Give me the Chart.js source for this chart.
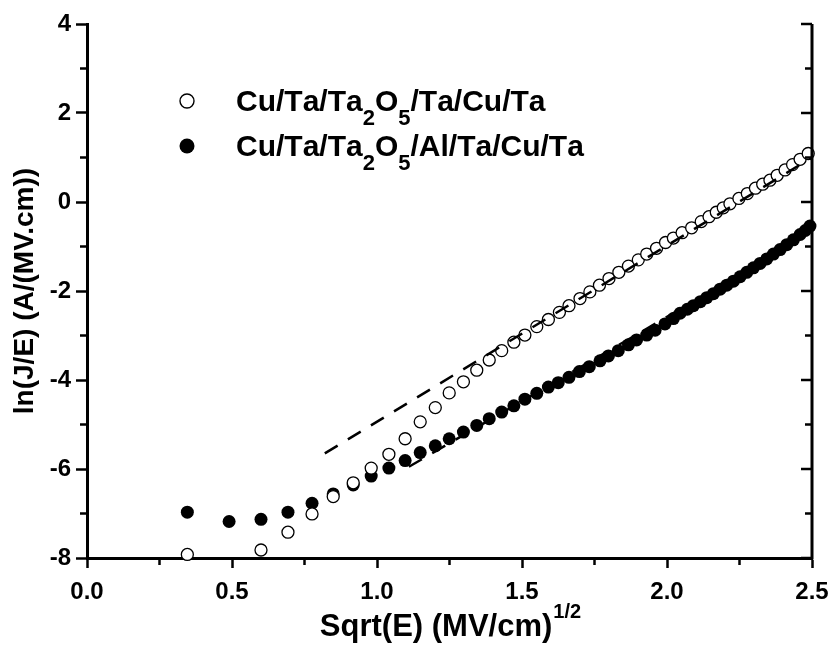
<!DOCTYPE html>
<html>
<head>
<meta charset="utf-8">
<script src="https://cdn.jsdelivr.net/npm/chart.js@4.4.0/dist/chart.umd.min.js"></script>
<style>
  html, body { margin: 0; padding: 0; background: #fff; }
  #wrap { width: 834px; height: 651px; }
</style>
</head>
<body>
<div id="wrap"><canvas id="jeChart" width="834" height="651"></canvas></div>
<script>
// open circles: Cu/Ta/Ta2O5/Ta/Cu/Ta
const sqrtE_open = [0.346, 0.600, 0.693, 0.776, 0.849, 0.918, 0.980, 1.041, 1.097, 1.149,
  1.201, 1.249, 1.298, 1.344, 1.387, 1.430, 1.472, 1.510, 1.551, 1.591,
  1.629, 1.662, 1.700, 1.734, 1.767, 1.800, 1.834, 1.867, 1.901, 1.930,
  1.964, 1.995, 2.022, 2.052, 2.085, 2.118, 2.145, 2.170, 2.194, 2.217,
  2.248, 2.277, 2.305, 2.330, 2.355, 2.380, 2.407, 2.433, 2.459, 2.487];
const lnJE_open = [-7.92, -7.82, -7.42, -7.01, -6.62, -6.31, -5.98, -5.67, -5.32, -4.94,
  -4.62, -4.29, -4.04, -3.78, -3.55, -3.34, -3.15, -2.99, -2.80, -2.64,
  -2.48, -2.33, -2.17, -2.02, -1.87, -1.72, -1.58, -1.44, -1.30, -1.17,
  -1.04, -0.91, -0.81, -0.69, -0.58, -0.44, -0.33, -0.23, -0.13, -0.04,
  0.08, 0.19, 0.31, 0.40, 0.49, 0.60, 0.72, 0.84, 0.96, 1.09];

// filled circles: Cu/Ta/Ta2O5/Al/Ta/Cu/Ta
const sqrtE_filled = [0.346, 0.490, 0.600, 0.693, 0.776, 0.849, 0.918, 0.980, 1.041, 1.097,
  1.149, 1.201, 1.249, 1.298, 1.344, 1.387, 1.430, 1.472, 1.510, 1.551,
  1.591, 1.625, 1.662, 1.698, 1.732, 1.769, 1.798, 1.832, 1.867, 1.895,
  1.930, 1.959, 1.993, 2.022, 2.045, 2.070, 2.091, 2.115, 2.137, 2.160,
  2.183, 2.206, 2.229, 2.252, 2.275, 2.298, 2.321, 2.344, 2.367, 2.390,
  2.413, 2.436, 2.459, 2.477, 2.493];
const lnJE_filled = [-6.97, -7.18, -7.13, -6.97, -6.77, -6.56, -6.36, -6.16, -5.98, -5.81,
  -5.63, -5.48, -5.32, -5.17, -5.02, -4.87, -4.72, -4.58, -4.43, -4.30,
  -4.16, -4.06, -3.94, -3.81, -3.70, -3.57, -3.46, -3.34, -3.21, -3.10,
  -2.99, -2.88, -2.74, -2.62, -2.50, -2.41, -2.33, -2.24, -2.15, -2.06,
  -1.96, -1.87, -1.78, -1.68, -1.58, -1.48, -1.38, -1.28, -1.17, -1.07,
  -0.96, -0.85, -0.73, -0.64, -0.54];

// dashed linear fits
const fitX_open = [0.82, 2.5];
const fitY_open = [-5.65, 1.0];
const fitX_filled = [1.11, 2.08];
const fitY_filled = [-5.95, -2.28];

const seriesLabels = ['Cu/Ta/Ta_2O_5/Ta/Cu/Ta', 'Cu/Ta/Ta_2O_5/Al/Ta/Cu/Ta'];

const xTicks = [0.0, 0.5, 1.0, 1.5, 2.0, 2.5];
const xMinor = [0.25, 0.75, 1.25, 1.75, 2.25];
const yTicks = [-8, -6, -4, -2, 0, 2, 4];
const yMinor = [-7, -5, -3, -1, 1, 3];

const FONT = '"Liberation Sans", Arial, Helvetica, sans-serif';

const toPoints = (xs, ys) => xs.map((x, i) => ({ x: x, y: ys[i] }));

// draws text where "_c" puts c as a subscript
function drawRich(ctx, str, x, y, size) {
  let cx = x;
  for (let i = 0; i < str.length; i++) {
    let ch = str[i];
    if (ch === '_') {
      ch = str[++i];
      ctx.font = 'bold ' + Math.round(size * 0.73) + 'px ' + FONT;
      ctx.fillText(ch, cx, y + size * 0.45);
    } else {
      ctx.font = 'bold ' + size + 'px ' + FONT;
      ctx.fillText(ch, cx, y);
    }
    cx += ctx.measureText(ch).width;
  }
  return cx;
}

const axisExtras = {
  id: 'axisExtras',
  afterDraw(chart) {
    const { ctx, chartArea: a, scales: { x, y } } = chart;
    ctx.save();
    ctx.strokeStyle = '#000';
    ctx.fillStyle = '#000';

    // right axis with inward ticks
    ctx.lineWidth = 3;
    ctx.beginPath();
    ctx.moveTo(a.right, a.top);
    ctx.lineTo(a.right, a.bottom + 1.5);
    ctx.stroke();
    ctx.lineWidth = 2.5;
    yTicks.forEach(v => {
      const py = y.getPixelForValue(v);
      ctx.beginPath(); ctx.moveTo(a.right, py); ctx.lineTo(a.right - 11, py); ctx.stroke();
    });
    yMinor.forEach(v => {
      const py = y.getPixelForValue(v);
      ctx.beginPath(); ctx.moveTo(a.right, py); ctx.lineTo(a.right - 7, py); ctx.stroke();
      ctx.beginPath(); ctx.moveTo(a.left, py); ctx.lineTo(a.left - 7, py); ctx.stroke();
    });
    xMinor.forEach(v => {
      const px = x.getPixelForValue(v);
      ctx.beginPath(); ctx.moveTo(px, a.bottom); ctx.lineTo(px, a.bottom + 7); ctx.stroke();
    });

    // x axis title with superscript
    ctx.textBaseline = 'alphabetic';
    ctx.textAlign = 'left';
    ctx.font = 'bold 31px ' + FONT;
    const main = 'Sqrt(E) (MV/cm)';
    const w = ctx.measureText(main).width;
    ctx.font = 'bold 20px ' + FONT;
    const sw = ctx.measureText('1/2').width;
    const tx = 450 - (w + sw) / 2;
    ctx.font = 'bold 31px ' + FONT;
    ctx.fillText(main, tx, 636);
    ctx.font = 'bold 20px ' + FONT;
    ctx.fillText('1/2', tx + w + 1, 618);

    // legend
    const rows = [{ yc: 101, base: 111, filled: false }, { yc: 146, base: 156, filled: true }];
    rows.forEach((r, i) => {
      ctx.beginPath();
      ctx.arc(187, r.yc, r.filled ? 7.5 : 7, 0, Math.PI * 2);
      if (r.filled) {
        ctx.fill();
      } else {
        ctx.lineWidth = 1.4;
        ctx.stroke();
      }
      drawRich(ctx, seriesLabels[i], 236, r.base, 30);
    });
    ctx.restore();
  }
};

new Chart(document.getElementById('jeChart'), {
  type: 'scatter',
  data: {
    datasets: [
      {
        label: 'fit open',
        type: 'line',
        data: toPoints(fitX_open, fitY_open),
        borderColor: '#000',
        borderWidth: 2.5,
        borderDash: [15, 12],
        pointRadius: 0,
        fill: false,
        order: 0,
        clip: false
      },
      {
        label: 'fit filled',
        type: 'line',
        data: toPoints(fitX_filled, fitY_filled),
        borderColor: '#000',
        borderWidth: 2.5,
        borderDash: [15, 12],
        pointRadius: 0,
        fill: false,
        order: 0,
        clip: false
      },
      {
        label: seriesLabels[0],
        data: toPoints(sqrtE_open, lnJE_open),
        pointRadius: 6,
        pointBorderWidth: 1.3,
        pointBorderColor: '#000',
        pointBackgroundColor: '#fff',
        order: 1,
        clip: false
      },
      {
        label: seriesLabels[1],
        data: toPoints(sqrtE_filled, lnJE_filled),
        pointRadius: 6.5,
        pointBorderWidth: 0,
        pointBackgroundColor: '#000',
        pointBorderColor: '#000',
        order: 2,
        clip: false
      }
    ]
  },
  options: {
    responsive: false,
    animation: false,
    devicePixelRatio: 1,
    layout: { padding: { left: 0, top: 24, right: 22, bottom: 0 } },
    plugins: {
      legend: { display: false },
      tooltip: { enabled: false }
    },
    scales: {
      x: {
        type: 'linear',
        min: 0,
        max: 2.5,
        afterFit: scale => {
          scale.height = 93;
          scale.paddingLeft = 0;
          scale.paddingRight = 0;
        },
        afterBuildTicks: scale => { scale.ticks = xTicks.map(v => ({ value: v })); },
        border: { display: true, color: '#000', width: 3 },
        grid: { drawOnChartArea: false, drawTicks: true, tickLength: 10, tickWidth: 2.5, tickColor: '#000' },
        ticks: {
          color: '#000',
          padding: 10,
          maxRotation: 0,
          font: { family: FONT, size: 24, weight: 'bold' },
          callback: v => Number(v).toFixed(1)
        }
      },
      y: {
        type: 'linear',
        min: -8,
        max: 4,
        afterFit: scale => {
          scale.width = 87;
          scale.paddingTop = 0;
          scale.paddingBottom = 0;
        },
        afterBuildTicks: scale => { scale.ticks = yTicks.map(v => ({ value: v })); },
        border: { display: true, color: '#000', width: 3 },
        grid: { drawOnChartArea: false, drawTicks: true, tickLength: 11, tickWidth: 2.5, tickColor: '#000' },
        ticks: {
          color: '#000',
          padding: 5,
          font: { family: FONT, size: 24, weight: 'bold' },
          callback: v => String(v)
        },
        title: {
          display: true,
          text: 'ln(J/E) (A/(MV.cm))',
          color: '#000',
          padding: { top: 8, bottom: 0 },
          font: { family: FONT, size: 28, weight: 'bold' }
        }
      }
    }
  },
  plugins: [axisExtras]
});
</script>
</body>
</html>
